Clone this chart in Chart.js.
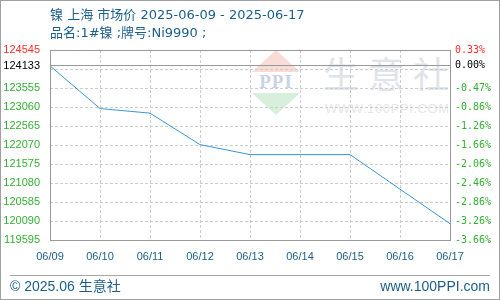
<!DOCTYPE html>
<html><head><meta charset="utf-8">
<script src="https://cdn.jsdelivr.net/npm/chart.js@4"></script>
<style>
html,body{margin:0;padding:0;background:#fff;}
#wrap{position:relative;width:500px;height:300px;overflow:hidden;}
#frame{position:absolute;left:0;top:0;width:500px;height:300px;box-sizing:border-box;border:1px solid #a0a0a0;pointer-events:none;z-index:5;}
canvas{position:absolute;left:0;top:0;z-index:2;}
.t{position:absolute;white-space:nowrap;color:#1b5e8c;z-index:3;}
.wm{position:absolute;z-index:1;white-space:nowrap;}
#sep{position:absolute;left:10px;top:275px;width:480px;height:1px;background:#a8a8a8;z-index:3;}
</style></head>
<body>
<div id="wrap">
  <div class="wm" style="left:252px;top:50px;width:0;height:0;border-left:24px solid transparent;border-right:24px solid transparent;border-bottom:22px solid #f9dcd6;"></div>
  <div class="wm" style="left:252px;top:93px;width:0;height:0;border-left:24px solid transparent;border-right:24px solid transparent;border-top:22px solid #d8efdc;"></div>
  <div class="wm" style="left:252px;top:72px;width:48px;text-align:center;font:bold 19px 'Liberation Serif';color:#c9d2e6;line-height:20px;letter-spacing:1px;">PPI</div>
  <div class="wm" style="left:323px;top:52px;font:36px 'Noto Sans CJK SC';color:#dfe3ec;letter-spacing:9px;line-height:40px;">生意社</div>
  <div class="wm" style="left:325px;top:101px;font:13px 'Liberation Sans';color:#e6e6e6;letter-spacing:0.6px;line-height:16px;">WWW.100PPI.COM</div>
  <canvas id="c" width="500" height="300"></canvas>
  <div class="t" style="left:50px;top:6px;font:13px 'DejaVu Sans','Noto Sans CJK SC';line-height:18px;">镍 上海 市场价 2025-06-09 - 2025-06-17</div>
  <div class="t" style="left:50px;top:24px;font:13px 'DejaVu Sans','Noto Sans CJK SC';line-height:18px;">品名:1#镍 ;牌号:Ni9990 ;</div>
  <div id="sep"></div>
  <div class="t" style="left:10px;top:276px;font:14px 'Liberation Sans','Noto Sans CJK SC';line-height:20px;">© 2025.06 生意社</div>
  <div class="t" style="right:10px;top:276px;font:14px 'Liberation Sans';line-height:20px;">www.100PPI.com</div>
  <div id="frame"></div>
</div>
<script>
const categories = ['06/09','06/10','06/11','06/12','06/13','06/14','06/15','06/16','06/17'];
const prices = [124133, 123020, 122900, 122080, 121820, 121820, 121820, 120920, 120020];
const baseValue = 124133;
const yMin = 119595;
const yMax = 124545;
const yTickValues = [119595,120090,120585,121080,121575,122070,122565,123060,123555,124050,124133,124545];
const hiddenTickValues = [124050];

const RED = '#ff2b2b', GREEN = '#33b033', BLACK = '#000000';
function tickColor(v){ return v === yMax ? RED : (v === baseValue ? BLACK : GREEN); }

const boxPlugin = {
  id:'box',
  afterDraw(chart){
    const a = chart.chartArea, ctx = chart.ctx;
    ctx.save();
    ctx.strokeStyle = '#999999';
    ctx.lineWidth = 1;
    ctx.strokeRect(Math.round(a.left)+0.5, Math.round(a.top)+0.5, Math.round(a.right-a.left), Math.round(a.bottom-a.top));
    ctx.restore();
  }
};

new Chart(document.getElementById('c'), {
  type:'line',
  data:{
    labels:categories,
    datasets:[{
      data:prices,
      borderColor:'#3a97d6',
      borderWidth:1,
      pointRadius:0,
      tension:0,
      fill:false
    }]
  },
  options:{
    responsive:false,
    animation:false,
    plugins:{legend:{display:false},tooltip:{enabled:false}},
    layout:{padding:{top:50,left:0,right:0,bottom:0}},
    scales:{
      x:{
        type:'category',
        offset:false,
        afterFit(s){ s.height = 60; },
        grid:{color:'#cccccc',lineWidth:1,drawTicks:false},
        border:{display:false,dash:[3,2]},
        ticks:{color:'#1b5e8c',font:{family:'Liberation Sans',size:11},padding:10,maxRotation:0,autoSkip:false}
      },
      y:{
        position:'left',
        min:yMin,max:yMax,
        afterFit(s){ s.width = 50; },
        afterBuildTicks(s){ s.ticks = yTickValues.map(v=>({value:v})); },
        grid:{
          drawTicks:false,
          color:(c)=> (c.tick && c.tick.value===baseValue) ? '#999999' : '#cccccc',
          lineWidth:1
        },
        border:{display:false,dash:(c)=> (c.tick && c.tick.value===baseValue) ? [] : [3,2]},
        ticks:{
          autoSkip:false,
          padding:10,
          font:{family:'Liberation Sans',size:11},
          color:(c)=> tickColor(c.tick.value),
          callback:(v)=> hiddenTickValues.includes(v) ? '' : String(v)
        }
      },
      y2:{
        position:'right',
        min:yMin,max:yMax,
        afterFit(s){ s.width = 50; },
        afterBuildTicks(s){ s.ticks = yTickValues.map(v=>({value:v})); },
        grid:{display:false,drawTicks:false},
        border:{display:false},
        ticks:{
          autoSkip:false,
          padding:5,
          font:{family:'DejaVu Sans Mono',size:10},
          color:(c)=> tickColor(c.tick.value),
          callback:(v)=> hiddenTickValues.includes(v) ? '' : ((v/baseValue-1)*100).toFixed(2)+'%'
        }
      }
    }
  },
  plugins:[boxPlugin]
});
</script>
</body></html>
